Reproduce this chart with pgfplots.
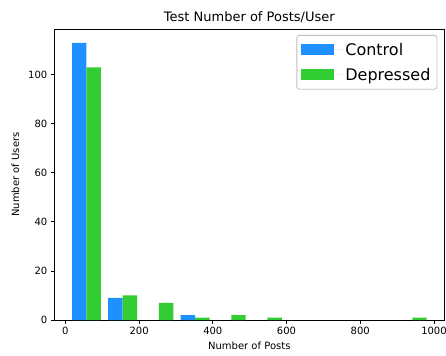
\documentclass[border=0pt]{standalone}
\usepackage{pgfplots}
\pgfplotsset{compat=1.18}
\usepackage{fontspec}
\setmainfont{DejaVu Sans}
\definecolor{ctrl}{HTML}{1E90FF}
\definecolor{depr}{HTML}{32CD32}
\begin{document}
\begin{tikzpicture}
\useasboundingbox (-54.3bp,-36bp) rectangle (391.7bp,320bp);
\begin{axis}[
  at={(0,0)}, anchor=south west,
  scale only axis, width=390bp, height=291bp,
  xmin=-30, xmax=1028, ymin=0, ymax=118.65,
  xtick={0,200,400,600,800,1000},
  ytick={0,20,40,60,80,100},
  xtick pos=bottom, ytick pos=left,
  tick align=outside, major tick length=3.5bp,
  every tick/.style={black, line width=0.8bp},
  axis line style={line width=0.8bp},
  /pgf/number format/assume math mode=true,
  /pgf/number format/set thousands separator={},
  ticklabel style={font=\fontsize{10bp}{12bp}\selectfont},
  xlabel={Number of Posts}, ylabel={Number of Users},
  label style={font=\fontsize{10bp}{12bp}\selectfont},
  ylabel style={yshift=2bp},
  title={Test Number of Posts/User},
  title style={font=\fontsize{13bp}{15bp}\selectfont, yshift=-3bp},
  legend image code/.code={
    \fill[#1, sharp corners] (0bp,-5.5bp) rectangle (33bp,5.5bp);
    \path (0bp,0bp) -- (42bp,0bp);},
  legend cell align=left,
  legend style={at={(1,1)}, anchor=north east, xshift=-7bp, yshift=-6bp,
    font=\fontsize{16bp}{19bp}\selectfont,
    draw=black!25, line width=0.8bp, rounded corners=2.5bp, fill=white,
    inner xsep=4.5bp, inner ysep=5.5bp, row sep=7.5bp},
]
% histogram bins: first edge 8.2, bin width 98.2; bars 0.4 bin wide
\addplot[ybar, bar width=39.3, fill=ctrl, draw=none]
  coordinates {(37.7,113) (135.9,9) (332.3,2)};
\addlegendentry{Control}
\addplot[ybar, bar width=39.3, fill=depr, draw=none]
  coordinates {(76.9,103) (175.1,10) (273.3,7) (371.5,1) (469.7,2) (567.9,1) (960.7,1)};
\addlegendentry{Depressed}
\end{axis}
\end{tikzpicture}
\end{document}
